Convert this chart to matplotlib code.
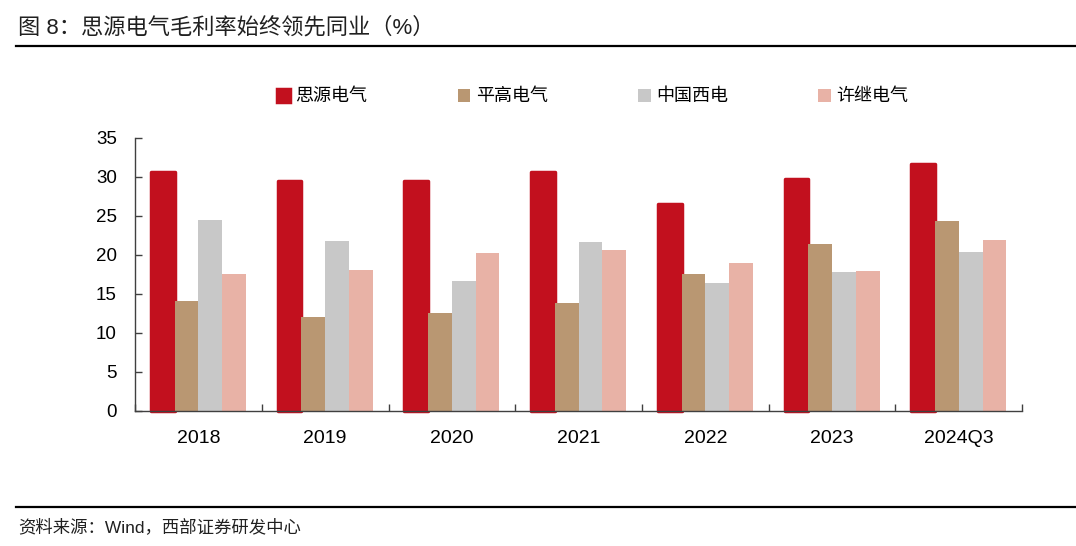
import matplotlib
matplotlib.use("Agg")
import matplotlib.pyplot as plt
from matplotlib.lines import Line2D
import numpy as np

plt.rcParams["font.family"] = ["Liberation Sans", "Noto Sans CJK SC", "DejaVu Sans"]

# --- data ---------------------------------------------------------------------
CATEGORIES = ["2018", "2019", "2020", "2021", "2022", "2023", "2024Q3"]
SIYUAN = [30.7, 29.5, 29.5, 30.6, 26.5, 29.7, 31.6]
PINGGAO = [14.1, 12.0, 12.5, 13.8, 17.5, 21.4, 24.3]
XIDIAN = [24.5, 21.8, 16.6, 21.7, 16.4, 17.8, 20.4]
XUJI = [17.5, 18.1, 20.2, 20.6, 19.0, 18.0, 21.9]
SERIES_NAMES = ["思源电气", "平高电气", "中国西电", "许继电气"]

COLORS = ["#C2101E", "#B99772", "#C8C8C8", "#E8B2A6"]
CJK = ["Noto Sans CJK SC", "DejaVu Sans"]
MIXED = ["Liberation Sans", "Noto Sans CJK SC", "DejaVu Sans"]

fig = plt.figure(figsize=(10.76, 5.46), dpi=100)
ax = fig.add_axes([0.1255, 0.2473, 0.8245, 0.5])

x = np.arange(len(CATEGORIES))
w = 0.1875
series = [SIYUAN, PINGGAO, XIDIAN, XUJI]
for i, (vals, name, col) in enumerate(zip(series, SERIES_NAMES, COLORS)):
    bars = ax.bar(x + (i - 1.5) * w, vals, width=w, color=col, label=name, zorder=2)
    if i == 0:
        # the first series has slightly rounded, heavier bars
        for b in bars:
            b.set_edgecolor(col)
            b.set_linewidth(2.5)
            b.set_joinstyle("round")
            b.set_clip_on(False)

ax.set_xlim(-0.5, len(CATEGORIES) - 0.5)
ax.set_ylim(0, 35)
ax.set_yticks(range(0, 36, 5))
ax.set_xticks(x)
ax.set_xticklabels(CATEGORIES, fontsize=14)
ax.set_xticks(np.arange(-0.5, len(CATEGORIES)), minor=True)
ax.tick_params(axis="x", which="major", length=0, pad=14)
ax.tick_params(axis="x", which="minor", direction="in", length=5, width=1, color="#404040")
ax.tick_params(axis="y", direction="in", length=5, width=1, color="#404040", labelsize=13.5, pad=13)
for s in ("top", "right"):
    ax.spines[s].set_visible(False)
for s in ("left", "bottom"):
    ax.spines[s].set_color("#404040")
    ax.spines[s].set_linewidth(1.0)
ax.spines["bottom"].set_zorder(3)

leg = ax.legend(loc="center", bbox_to_anchor=(0.551, 1 - 96.5 / 546), bbox_transform=fig.transFigure,
                ncol=4, frameon=False, handlelength=0.7, handleheight=0.75,
                handletextpad=0.3, columnspacing=5.0, prop={"family": CJK, "size": 13})

# title, rules and source
fig.text(0.017, 1 - 28 / 546, "图 8：思源电气毛利率始终领先同业（%）", fontsize=16,
         family=MIXED, va="center", ha="left", color="#202020")
fig.add_artist(Line2D([16 / 1076, 1.0], [1 - 46 / 546] * 2, color="black", linewidth=1.6))
fig.add_artist(Line2D([16 / 1076, 1.0], [1 - 507 / 546] * 2, color="black", linewidth=1.6))
fig.text(0.017, 1 - 527 / 546, "资料来源：Wind，西部证券研发中心", fontsize=12.5,
         family=MIXED, va="center", ha="left", color="#202020")

fig.savefig("out.png", dpi=100)
